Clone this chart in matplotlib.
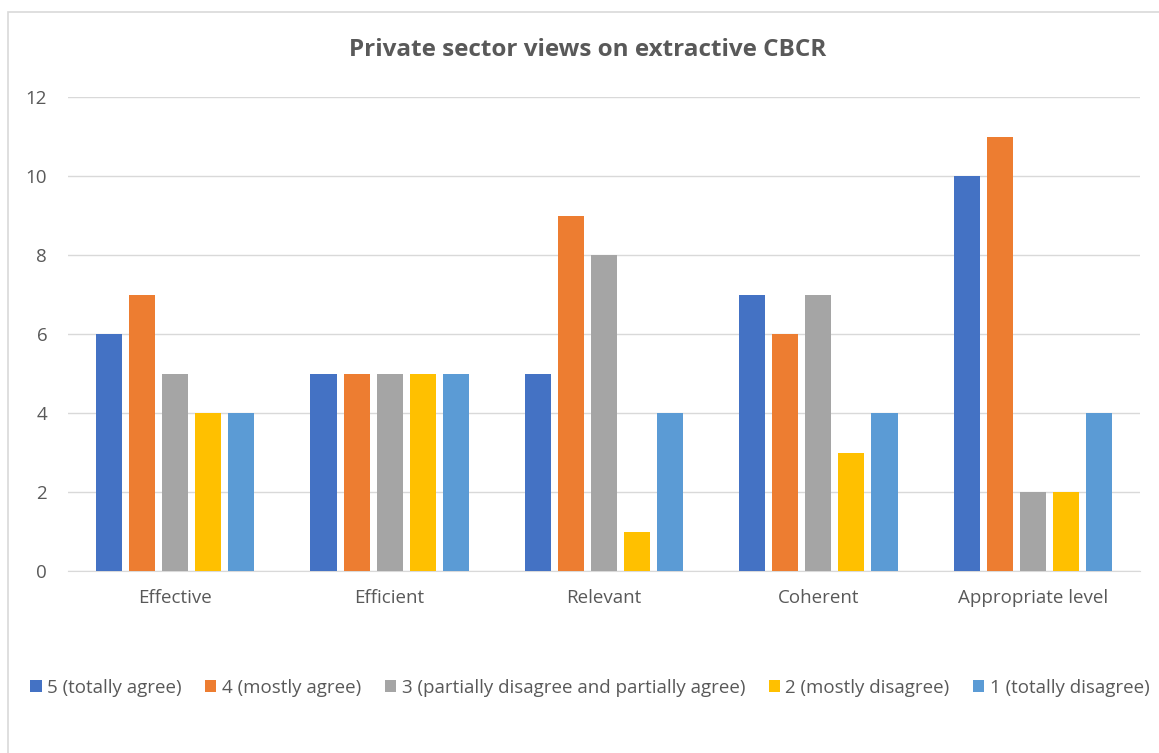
import matplotlib.pyplot as plt
import numpy as np
from matplotlib.patches import Rectangle

categories = ['Effective', 'Efficient', 'Relevant', 'Coherent', 'Appropriate level']
series_names = ['5 (totally agree)', '4 (mostly agree)',
                '3 (partially disagree and partially agree)',
                '2 (mostly disagree)', '1 (totally disagree)']
totally_agree = [6, 5, 5, 7, 10]
mostly_agree = [7, 5, 9, 6, 11]
partially = [5, 5, 8, 7, 2]
mostly_disagree = [4, 5, 1, 3, 2]
totally_disagree = [4, 5, 4, 4, 4]

values = [totally_agree, mostly_agree, partially, mostly_disagree, totally_disagree]
colors = ['#4472C4', '#ED7D31', '#A5A5A5', '#FFC000', '#5B9BD5']
text_color = '#595959'

plt.rcParams['font.family'] = ['Open Sans', 'DejaVu Sans']

fig = plt.figure(figsize=(11.59, 7.53), dpi=100)
ax = fig.add_axes([68 / 1159, 1 - 571 / 753, 1072 / 1159, 474 / 753])

# outer chart frame
fig.patches.append(Rectangle((8 / 1159, -0.05), 1.2, 1 - 12 / 753 + 0.05,
                             transform=fig.transFigure, fill=False,
                             edgecolor='#D9D9D9', lw=1.2))

x = np.arange(len(categories))
step = 0.154
width = 0.122
for i, (vals, c, name) in enumerate(zip(values, colors, series_names)):
    ax.bar(x + (i - 2) * step, vals, width, color=c, label=name, zorder=3)

ax.set_xlim(-0.5, len(categories) - 0.5)
ax.set_ylim(0, 12)
ax.set_yticks(range(0, 13, 2))
ax.set_xticks(x)
ax.set_xticklabels(categories)
ax.yaxis.grid(True, color='#D9D9D9', lw=1)
ax.set_axisbelow(True)
for s in ['top', 'right', 'left']:
    ax.spines[s].set_visible(False)
ax.spines['bottom'].set_color('#D9D9D9')
ax.tick_params(axis='both', length=0, colors=text_color, labelsize=13.5)
ax.tick_params(axis='y', pad=15)
ax.tick_params(axis='x', pad=13)

fig.text(588 / 1159, 1 - 50 / 753, 'Private sector views on extractive CBCR',
         ha='center', va='center', fontsize=17.5, fontweight='bold', color=text_color)

fig.legend(loc='center', bbox_to_anchor=(590 / 1159, 1 - 688 / 753), ncol=5,
           frameon=False, fontsize=13.5, labelcolor=text_color,
           handlelength=0.6, handleheight=0.6, handletextpad=0.3, columnspacing=1.25)

fig.savefig('out.png', dpi=100, facecolor='white')
